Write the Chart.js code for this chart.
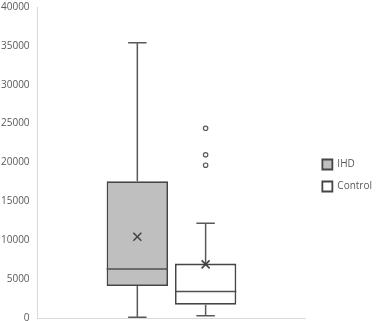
<!DOCTYPE html>
<html>
<head>
<meta charset="utf-8">
<script src="https://cdn.jsdelivr.net/npm/chart.js@4"></script>
<style>
  html, body { margin: 0; background: #fff; }
  #wrap { width: 377px; height: 321px; }
</style>
</head>
<body>
<div id="wrap"><canvas id="chart"></canvas></div>
<script>
// box plot values
const seriesNames = ['IHD', 'Control'];
const whiskerLow = [100, 300];
const q1 = [4100, 1700];
const median = [6300, 3400];
const q3 = [17600, 7000];
const whiskerHigh = [35400, 12200];
const means = [10450, 6900];
const outliers = [[], [24400, 21000, 19650]];
const fills = ['#bfbfbf', '#ffffff'];

// whiskers, medians, means and outliers on top of the floating bars
const boxExtras = {
    id: 'boxExtras',
    afterLayout(chart) {
        // nudge legend a bit right and down, like the original
        const lg = chart.legend;
        lg.left += 5; lg.right += 5;
        lg.top += 15; lg.bottom += 15;
    },
    afterDatasetsDraw(chart) {
        const ctx = chart.ctx;
        const y = chart.scales.y;
        ctx.save();
        seriesNames.forEach((name, i) => {
            const bar = chart.getDatasetMeta(i).data[0];
            if (!bar) return;
            const x = bar.x;
            const half = bar.width / 2;
            const cap = bar.width * 0.15;

            ctx.strokeStyle = '#595959';
            ctx.lineWidth = 1.5;
            ctx.beginPath();
            ctx.moveTo(x, y.getPixelForValue(q3[i]));
            ctx.lineTo(x, y.getPixelForValue(whiskerHigh[i]));
            ctx.moveTo(x - cap, y.getPixelForValue(whiskerHigh[i]));
            ctx.lineTo(x + cap, y.getPixelForValue(whiskerHigh[i]));
            ctx.moveTo(x, y.getPixelForValue(q1[i]));
            ctx.lineTo(x, y.getPixelForValue(whiskerLow[i]));
            ctx.moveTo(x - cap, y.getPixelForValue(whiskerLow[i]));
            ctx.lineTo(x + cap, y.getPixelForValue(whiskerLow[i]));
            ctx.stroke();

            ctx.strokeStyle = '#505050';
            ctx.beginPath();
            ctx.moveTo(x - half, y.getPixelForValue(median[i]));
            ctx.lineTo(x + half, y.getPixelForValue(median[i]));
            ctx.stroke();

            const my = y.getPixelForValue(means[i]);
            ctx.strokeStyle = '#404040';
            ctx.lineWidth = 1.5;
            ctx.beginPath();
            ctx.moveTo(x - 4, my - 4); ctx.lineTo(x + 4, my + 4);
            ctx.moveTo(x + 4, my - 4); ctx.lineTo(x - 4, my + 4);
            ctx.stroke();

            ctx.lineWidth = 1.2;
            ctx.strokeStyle = '#595959';
            ctx.fillStyle = '#fff';
            outliers[i].forEach(v => {
                ctx.beginPath();
                ctx.arc(x, y.getPixelForValue(v), 2.2, 0, Math.PI * 2);
                ctx.fill();
                ctx.stroke();
            });
        });
        ctx.restore();
    }
};

new Chart(document.getElementById('chart'), {
    type: 'bar',
    data: {
        labels: [''],
        datasets: seriesNames.map((name, i) => ({
            label: name,
            data: [[q1[i], q3[i]]],
            backgroundColor: fills[i],
            borderColor: '#454545',
            borderWidth: 1.8,
            borderSkipped: false,
            categoryPercentage: 0.51,
            barPercentage: 0.9
        }))
    },
    options: {
        responsive: true,
        maintainAspectRatio: false,
        animation: false,
        layout: { padding: 0 },
        plugins: {
            legend: {
                position: 'right',
                labels: {
                    boxWidth: 10,
                    boxHeight: 10,
                    padding: 12,
                    color: '#595959',
                    font: { family: 'Open Sans', size: 10 }
                }
            },
            tooltip: { enabled: false }
        },
        scales: {
            x: {
                grid: { display: false, drawTicks: false },
                border: { display: true, color: '#d9d9d9' },
                ticks: { display: false }
            },
            y: {
                min: 0,
                max: 40000,
                grid: { display: true, drawOnChartArea: false, color: 'rgba(0,0,0,0)', tickLength: 7 },
                border: { display: true, color: '#d9d9d9' },
                ticks: {
                    stepSize: 5000,
                    padding: 1,
                    color: '#595959',
                    font: { family: 'Open Sans', size: 10 },
                    format: { useGrouping: false }
                },
                afterFit(scale) {
                    scale.paddingTop = 7;
                    scale.paddingBottom = 3;
                }
            }
        }
    },
    plugins: [boxExtras]
});
</script>
</body>
</html>
